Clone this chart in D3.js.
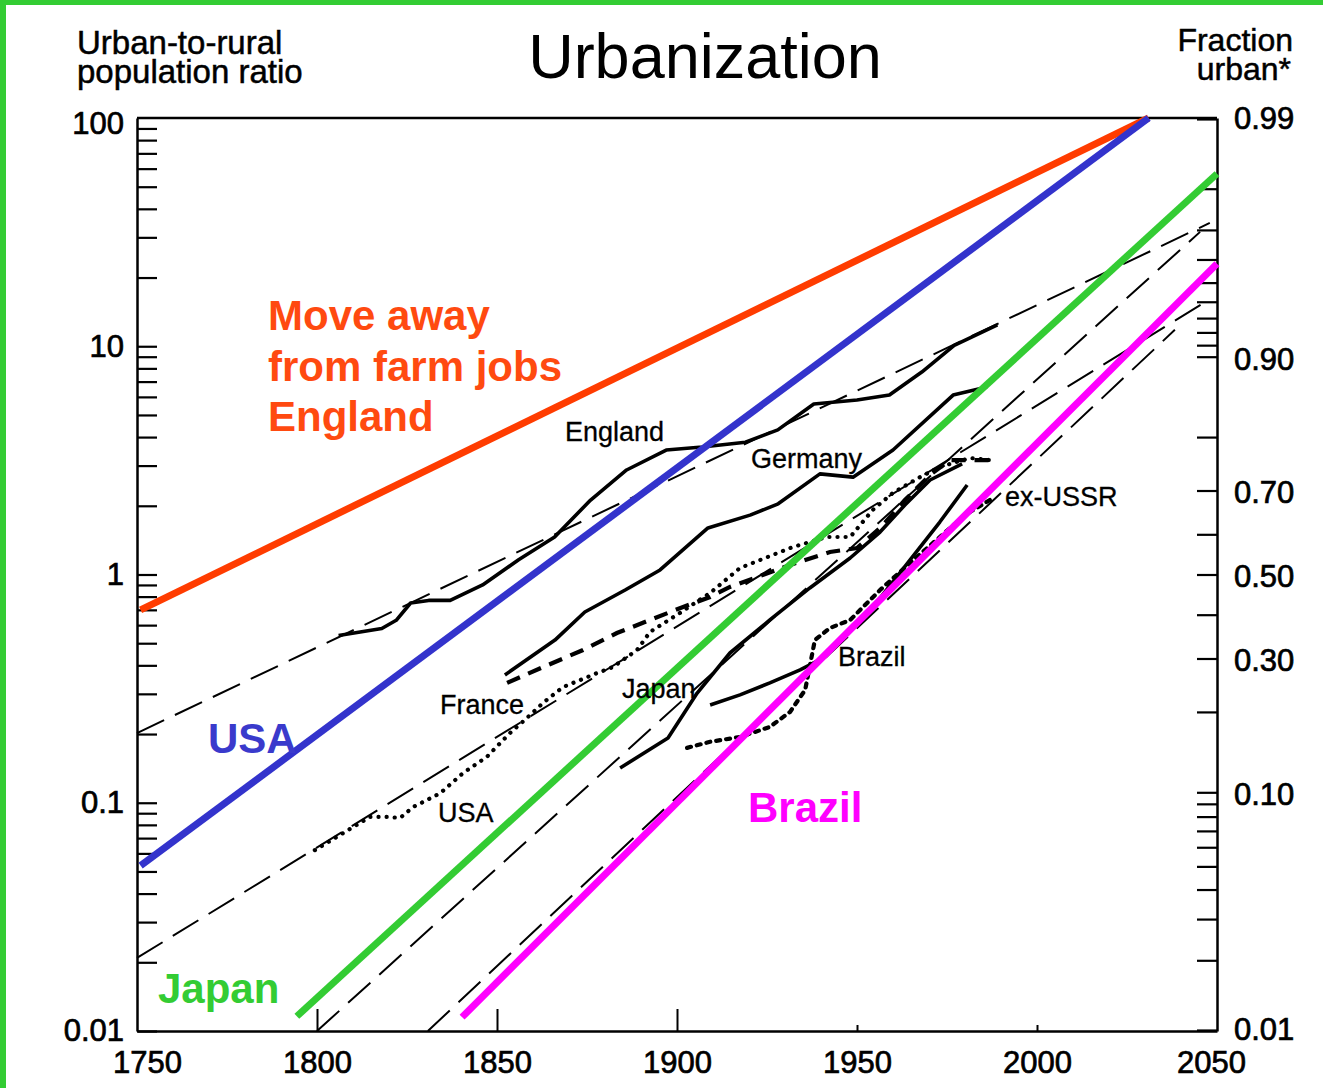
<!DOCTYPE html>
<html>
<head>
<meta charset="utf-8">
<script src="https://cdn.jsdelivr.net/npm/d3@7"></script>
<style>
  html, body { margin: 0; padding: 0; background: #fff; }
  svg { display: block; font-family: "Liberation Sans", Arial, Helvetica, sans-serif; }
</style>
</head>
<body>
<svg id="chart" width="1323" height="1088"></svg>
<script>
// ---------- DATA ----------
const yearTicks = [1750, 1800, 1850, 1900, 1950, 2000, 2050];
const ratioLabels = [100, 10, 1, 0.1, 0.01];
const ratioLabelText = ["100", "10", "1", "0.1", "0.01"];
const fractionTicks = [0.99, 0.98, 0.97, 0.96, 0.95, 0.94, 0.93, 0.92, 0.91, 0.90,
                       0.80, 0.70, 0.60, 0.50, 0.40, 0.30, 0.20, 0.10,
                       0.09, 0.08, 0.07, 0.06, 0.05, 0.04, 0.03, 0.02, 0.01];
const fractionLabels = [0.99, 0.90, 0.70, 0.50, 0.30, 0.10, 0.01];
const fractionLabelText = ["0.99", "0.90", "0.70", "0.50", "0.30", "0.10", "0.01"];

// trend lines (colored) [year, urban-to-rural ratio]
const trendEnglandMove = [[1751, 0.70], [2031, 100]];
const trendUSA = [[1751, 0.053], [2031, 100]];
const trendJapan = [[1794.4, 0.0116], [2050, 57]];
const trendBrazil = [[1840.3, 0.0115], [2050, 23]];

// logistic fits (thin long dashes)
const fitEngland = [[1750, 0.202], [2048, 34.7]];
const fitUSA = [[1750, 0.0209], [2046.7, 15.6]];
const fitJapan = [[1800, 0.01], [2045.3, 31.7]];
const fitBrazil = [[1830.8, 0.01], [2038.3, 11.8]];

// historical data
const dataEngland = [[1806,0.54],[1818,0.58],[1822,0.63],[1826,0.75],[1831,0.77],[1837,0.77],
  [1846,0.90],[1856,1.16],[1866,1.46],[1876,2.12],[1886,2.87],[1897,3.51],[1907,3.62],
  [1919,3.80],[1928,4.30],[1938,5.58],[1950,5.81],[1959,6.11],[1968,7.71],[1977,10.1],[1989,12.4]];
const dataGermany = [[1852.2,0.363],[1866.1,0.516],[1874.4,0.685],[1885.6,0.855],[1895.3,1.047],
  [1908.6,1.60],[1920.3,1.82],[1928.1,2.04],[1939.7,2.76],[1948.9,2.67],[1960,3.51],
  [1976.7,6.11],[1986.1,6.63]];
const dataUSA = [[1799.4,0.062],[1814.7,0.0867],[1819.4,0.0867],[1823.1,0.0858],[1826.7,0.0958],
  [1834.2,0.110],[1840.6,0.135],[1847.2,0.159],[1853.6,0.202],[1858.3,0.235],[1862.8,0.274],
  [1868.3,0.321],[1877.8,0.370],[1882.2,0.393],[1888.9,0.467],[1892.5,0.560],[1900.8,0.678],
  [1909.2,0.830],[1917.5,1.068],[1932.2,1.32],[1941.7,1.46],[1948.1,1.46],[1954.4,1.92],
  [1960,2.28],[1967.5,2.67],[1973,2.96],[1981.4,3.24],[1987,3.17]];
const dataFrance = [[1852.8,0.335],[1862.8,0.393],[1873.9,0.467],[1883.3,0.554],[1892.5,0.632],
  [1901.7,0.721],[1909.2,0.797],[1914.7,0.882],[1931.4,1.10],[1942.5,1.255],[1950,1.306],
  [1956.4,1.598],[1963.3,2.12],[1970.3,2.73],[1975.8,3.17],[1988.3,3.17]];
const dataJapan = [[1884.2,0.142],[1897.5,0.192],[1905.6,0.3025],[1914.7,0.453],[1925.8,0.632],
  [1936.9,0.873],[1948.1,1.181],[1956.4,1.535],[1963.3,2.016],[1970.3,2.594],[1979.2,3.05]];
const dataBrazil = [[1909.2,0.268],[1917.5,0.297],[1925.8,0.335],[1934.2,0.382],[1941.1,0.435],
  [1948.1,0.571],[1956.4,0.789],[1964.7,1.157],[1973,1.698],[1980.6,2.466]];
const dataUSSR = [[1902.8,0.174],[1909.2,0.185],[1917.5,0.194],[1925.8,0.215],[1931.4,0.250],
  [1935.6,0.312],[1938.3,0.516],[1942.5,0.583],[1948.1,0.632],[1956.4,0.855],[1964.7,1.123],
  [1973,1.459],[1980,1.823],[1986.9,2.12]];

// ---------- CHART ----------
(function () {
const svg = d3.select("#chart");
const W = 1323, H = 1088;
const pL = 137, pR = 1217, pT = 118, pB = 1031;

svg.append("rect").attr("width", W).attr("height", H).attr("fill", "#fff");
svg.append("rect").attr("x", 0).attr("y", 0).attr("width", W).attr("height", 5).attr("fill", "#33cc33");
svg.append("rect").attr("x", 0).attr("y", 0).attr("width", 6).attr("height", H).attr("fill", "#33cc33");

const x = d3.scaleLinear().domain([1750, 2050]).range([pL, pR]);
const y = d3.scaleLog().domain([0.01, 100]).range([pB, pT]);
const line = d3.line().x(d => x(d[0])).y(d => y(d[1]));
const FONT = "Liberation Sans, Arial, sans-serif";
const heavy = sel => sel.attr("stroke", "#000").attr("stroke-width", 0.7);

const leftTicks = [];
for (let e = -2; e < 2; e++) for (let m = 1; m <= 9; m++) leftTicks.push(m * Math.pow(10, e));

const gLeft = svg.append("g").attr("transform", `translate(${pL},0)`)
  .call(d3.axisRight(y).tickValues(leftTicks).tickSize(20).tickSizeOuter(0).tickFormat(""));
gLeft.select(".domain").attr("stroke-width", 2.5);
gLeft.selectAll(".tick line").attr("stroke-width", 2.2);

const gLeftLab = svg.append("g").attr("transform", `translate(${pL},0)`)
  .call(d3.axisLeft(y).tickValues(ratioLabels).tickSize(0).tickPadding(13)
    .tickFormat((d, i) => ratioLabelText[i]));
gLeftLab.select(".domain").remove();
gLeftLab.selectAll("text").attr("font-size", 31).attr("font-family", FONT).attr("fill", "#000")
  .attr("dy", (d, i) => i === 0 ? "0.5em" : "0.32em").call(heavy);

const rRatio = f => f / (1 - f);
const gRight = svg.append("g").attr("transform", `translate(${pR},0)`)
  .call(d3.axisLeft(y).tickValues(fractionTicks.map(rRatio)).tickSize(20).tickSizeOuter(0).tickFormat(""));
gRight.select(".domain").attr("stroke-width", 2.5);
gRight.selectAll(".tick line").attr("stroke-width", 2.2);

const gRightLab = svg.append("g").attr("transform", `translate(${pR},0)`)
  .call(d3.axisRight(y).tickValues(fractionLabels.map(rRatio)).tickSize(0).tickPadding(17)
    .tickFormat((d, i) => fractionLabelText[i]));
gRightLab.select(".domain").remove();
gRightLab.selectAll("text").attr("font-size", 31).attr("font-family", FONT).attr("fill", "#000")
  .attr("dy", (d, i) => (i > 0 && i < 6) ? "0.4em" : "0.32em").call(heavy);

svg.append("line").attr("x1", pL).attr("x2", pR).attr("y1", pT).attr("y2", pT)
  .attr("stroke", "#000").attr("stroke-width", 2.5);
const gBottom = svg.append("g").attr("transform", `translate(0,${pB})`)
  .call(d3.axisBottom(x).tickValues(yearTicks).tickSize(0).tickPadding(20).tickFormat(d3.format("d")));
gBottom.select(".domain").attr("stroke-width", 2.5);
gBottom.selectAll("text").attr("font-size", 31).attr("font-family", FONT).attr("fill", "#000")
  .attr("dx", d => d === 1750 ? 10 : (d === 2050 ? -6 : 0)).call(heavy);
svg.append("g").attr("transform", `translate(0,${pB})`)
  .call(d3.axisTop(x).tickValues([1800, 1850, 1900]).tickSize(22).tickFormat(""))
  .call(g => g.select(".domain").remove())
  .selectAll("line").attr("stroke-width", 2);
svg.append("g").attr("transform", `translate(0,${pB})`)
  .call(d3.axisTop(x).tickValues([1950, 2000]).tickSize(6).tickFormat(""))
  .call(g => g.select(".domain").remove())
  .selectAll("line").attr("stroke-width", 2);

const plot = svg.append("g");

[fitEngland, fitUSA, fitJapan, fitBrazil].forEach(d => {
  plot.append("path").datum(d).attr("d", line).attr("fill", "none")
    .attr("stroke", "#000").attr("stroke-width", 2).attr("stroke-dasharray", "30 12");
});

[dataEngland, dataGermany, dataJapan, dataBrazil].forEach(d => {
  plot.append("path").datum(d).attr("d", line).attr("fill", "none")
    .attr("stroke", "#000").attr("stroke-width", 3.6).attr("stroke-linejoin", "round");
});
plot.append("path").datum(dataFrance).attr("d", line).attr("fill", "none")
  .attr("stroke", "#000").attr("stroke-width", 4.2).attr("stroke-dasharray", "14 9");
plot.append("path").datum(dataUSA).attr("d", line).attr("fill", "none")
  .attr("stroke", "#000").attr("stroke-width", 4.2).attr("stroke-linecap", "round").attr("stroke-dasharray", "0.1 8");
plot.append("path").datum(dataUSSR).attr("d", line).attr("fill", "none")
  .attr("stroke", "#000").attr("stroke-width", 4.2).attr("stroke-linecap", "round").attr("stroke-dasharray", "4 6");

const trends = [
  [trendEnglandMove, "#ff3c00"],
  [trendUSA, "#3333cc"],
  [trendJapan, "#33cc33"],
  [trendBrazil, "#ff00ff"]
];
trends.forEach(([d, c]) => {
  plot.append("path").datum(d).attr("d", line).attr("fill", "none")
    .attr("stroke", c).attr("stroke-width", 7);
});

svg.append("text").attr("x", 705).attr("y", 78).attr("text-anchor", "middle")
  .attr("font-size", 63).attr("fill", "#000").text("Urbanization");

const tl = svg.append("text").attr("font-size", 33).attr("fill", "#000").call(heavy).attr("stroke-width", 0.5);
tl.append("tspan").attr("x", 77).attr("y", 54).text("Urban-to-rural");
tl.append("tspan").attr("x", 77).attr("y", 83).text("population ratio");

const tr = svg.append("text").attr("font-size", 32).attr("fill", "#000").attr("text-anchor", "end")
  .call(heavy).attr("stroke-width", 0.5);
tr.append("tspan").attr("x", 1293).attr("y", 51).text("Fraction");
tr.append("tspan").attr("x", 1291).attr("y", 80).text("urban*");

const bold = (tx, ty, txt, c) => svg.append("text").attr("x", tx).attr("y", ty)
  .attr("font-size", 42).attr("font-weight", "bold").attr("fill", c).text(txt);
bold(268, 330, "Move away", "#ff4a10");
bold(268, 381, "from farm jobs", "#ff4a10");
bold(268, 431, "England", "#ff4a10");
bold(208, 753, "USA", "#3a3acc");
bold(158, 1003, "Japan", "#33cc33");
bold(748, 822, "Brazil", "#ff00ff");

const lab = (tx, ty, txt) => svg.append("text").attr("x", tx).attr("y", ty)
  .attr("font-size", 27).attr("fill", "#000").attr("stroke", "#000").attr("stroke-width", 0.3).text(txt);
lab(565, 441, "England");
lab(751, 468, "Germany");
lab(1005, 506, "ex-USSR");
lab(838, 666, "Brazil");
lab(622, 698, "Japan");
lab(440, 714, "France");
lab(438, 822, "USA");
})();
</script>
</body>
</html>
